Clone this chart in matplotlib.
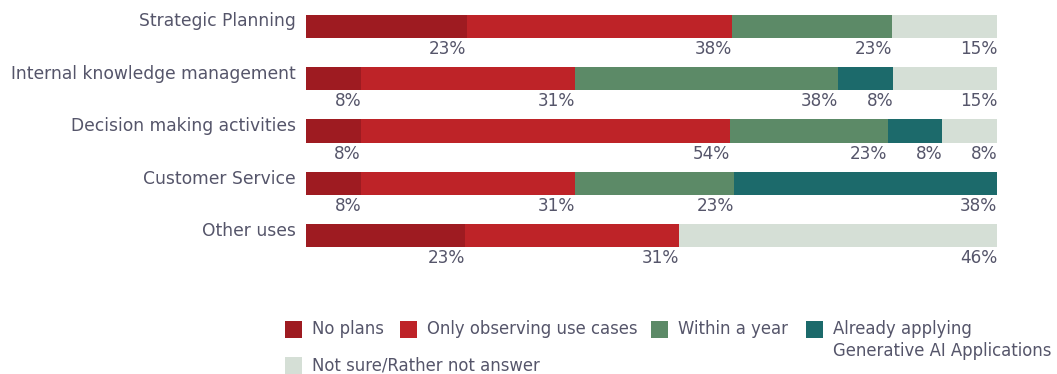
import numpy as np
import matplotlib
matplotlib.use("Agg")
import matplotlib.pyplot as plt
from matplotlib.patches import Rectangle

plt.rcParams['font.family'] = ['DejaVu Sans']

categories = ["Strategic Planning", "Internal knowledge management",
              "Decision making activities", "Customer Service", "Other uses"]
series_names = ["No plans", "Only observing use cases", "Within a year",
                "Already applying\nGenerative AI Applications",
                "Not sure/Rather not answer"]
no_plans = [23, 8, 8, 8, 23]
observing = [38, 31, 54, 31, 31]
within_year = [23, 38, 23, 23, 0]
applying = [0, 8, 8, 38, 0]
not_sure = [15, 15, 8, 0, 46]

colors = ["#9e1b21", "#be2328", "#5c8a67", "#1c6a6b", "#d5dfd6"]
text_col = "#55556a"

fig = plt.figure(figsize=(10.57, 3.74), dpi=100)
ax = fig.add_axes([306 / 1057, 1 - 262 / 374, 691 / 1057, 262 / 374])

series = [no_plans, observing, within_year, applying, not_sure]
# rounded percentages don't always add up to 100, so scale each row to full width
totals = np.sum(np.array(series, dtype=float), axis=0)
y = np.arange(len(categories))
left = np.zeros(len(categories))
for vals, col in zip(series, colors):
    vals = np.array(vals, dtype=float)
    widths = vals / totals * 100
    ax.barh(y, widths, left=left, height=0.44, color=col, linewidth=0)
    for i, v in enumerate(vals):
        if v > 0:
            ax.text(left[i] + widths[i], y[i] + 0.43, f"{int(v)}%", ha='right',
                    va='center', fontsize=12.2, color=text_col)
    left += widths

for i, c in enumerate(categories):
    ax.text(-1.45, y[i] - 0.09, c, ha='right', va='center', fontsize=12.3,
            color=text_col)

ax.set_xlim(0, 100)
ax.set_ylim(4.5, -0.5)
ax.axis('off')

# legend drawn by hand so the entries sit at fixed positions
W, H = 1057, 374
legend_items = [(285, 329, 0), (400, 329, 1), (651, 329, 2), (806, 329, 3), (285, 366, 4)]
for px, py, k in legend_items:
    fig.add_artist(Rectangle((px / W, 1 - (py + 8.5) / H), 17 / W, 17 / H,
                             transform=fig.transFigure, color=colors[k], linewidth=0))
    ty = py if k != 3 else py + 11
    fig.text((px + 27) / W, 1 - ty / H, series_names[k], ha='left', va='center',
             fontsize=11.9, color=text_col, linespacing=1.25)

fig.savefig("out.png", dpi=100)
